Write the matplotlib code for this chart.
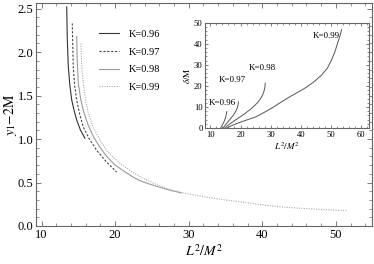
import matplotlib

matplotlib.use("Agg")
import matplotlib.pyplot as plt
from matplotlib.ticker import MultipleLocator

# main panel: y1 - 2M against L^2/M^2
K_LABELS = ["K=0.96", "K=0.97", "K=0.98", "K=0.99"]

L2_096 = [13.42, 13.5, 13.64, 13.85, 14.10, 14.45, 14.78, 15.3, 15.9]
Y_096 = [2.52, 2.15, 1.83, 1.62, 1.45, 1.32, 1.22, 1.10, 1.01]

L2_097 = [14.18, 14.25, 14.31, 14.5, 14.78, 15.2, 15.67, 16.5, 17.49, 18.8, 19.5, 20.2]
Y_097 = [2.33, 2.05, 1.83, 1.62, 1.45, 1.28, 1.14, 1.0, 0.87, 0.74, 0.68, 0.62]

L2_098 = [14.78, 14.85, 15.0, 15.3, 15.67, 16.3, 17.03, 17.9, 18.85, 20.0, 21.56,
          22.4, 23.4, 24.4, 25.5, 26.5, 27.5, 28.3, 29.0]
Y_098 = [2.18, 1.9, 1.64, 1.47, 1.33, 1.17, 1.03, 0.91, 0.80, 0.70, 0.61,
         0.565, 0.52, 0.49, 0.46, 0.435, 0.41, 0.395, 0.38]

L2_099 = [15.36, 15.45, 15.67, 16.0, 16.35, 17.0, 17.94, 19.0, 20.65, 22.0, 23.36,
          25.0, 27.0, 29.0, 31.5, 34.5, 37.8, 40.0, 42.4, 44.6, 46.9, 49.2, 51.6]
Y_099 = [2.10, 1.85, 1.64, 1.45, 1.30, 1.14, 0.99, 0.85, 0.72, 0.64, 0.57,
         0.50, 0.43, 0.385, 0.345, 0.305, 0.27, 0.243, 0.22, 0.207, 0.195, 0.185, 0.176]

# inset: delta/M against L^2/M^2
IN_L2_096 = [13.4, 14.0, 14.6, 15.0, 15.3, 15.45]
IN_D_096 = [0, 1.5, 3.2, 4.8, 6.4, 7.8]
IN_L2_097 = [14.2, 15.2, 16.2, 17.3, 18.0, 18.6, 19.0, 19.2, 19.3]
IN_D_097 = [0, 1.8, 3.6, 5.5, 6.9, 8.4, 9.8, 11.1, 12.4]
IN_L2_098 = [14.8, 15.6, 16.5, 18.3, 20.0, 21.6, 23.3, 24.9, 25.8, 26.6, 27.3,
             27.8, 28.1, 28.2]
IN_D_098 = [0, 1.0, 2.0, 3.8, 5.4, 7.0, 8.9, 11.0, 12.3, 13.9, 15.6,
            17.6, 19.5, 21.3]
IN_L2_099 = [15.5, 16.3, 17.3, 19.2, 22.0, 24.9, 27.7, 30.4, 33.0, 35.7, 38.5,
             41.4, 44.3, 46.9, 48.8, 50.2, 51.3, 52.2, 52.9, 53.5]
IN_D_099 = [0, 0.6, 1.3, 2.4, 3.8, 5.2, 7.3, 9.5, 11.9, 14.3, 16.6,
            19.0, 21.9, 25.2, 28.5, 32.4, 36.4, 40.5, 43.6, 46.7]

# where the inset labels sit (data coords of the inset)
IN_LABEL_X = [9.5, 12.7, 22.6, 43.8]
IN_LABEL_Y = [11.8, 22.8, 28.4, 43.5]

plt.rcParams["font.family"] = "Liberation Serif"
plt.rcParams["mathtext.fontset"] = "stix"

FRAME = "#666666"


def style_frame(ax, size):
    for s in ax.spines.values():
        s.set_color(FRAME)
        s.set_linewidth(0.8)
    ax.tick_params(which="both", direction="in", top=True, right=True,
                   color=FRAME, labelsize=size, pad=2)
    ax.tick_params(which="major", length=3.5, width=0.6)
    ax.tick_params(which="minor", length=2, width=0.5)


fig = plt.figure(figsize=(3.74, 2.64), dpi=100)
ax = fig.add_axes([0.0963, 0.144, 0.898, 0.843])

ax.plot(L2_096, Y_096, color="#333333", lw=0.8, label=K_LABELS[0])
ax.plot(L2_097, Y_097, color="#444444", lw=0.8, ls=(0, (2, 1.5)), label=K_LABELS[1])
ax.plot(L2_098, Y_098, color="#9a9a9a", lw=0.8, label=K_LABELS[2])
ax.plot(L2_099, Y_099, color="#aaaaaa", lw=0.8, ls=(0, (1, 1.2)), label=K_LABELS[3])

ax.set_xlim(9.25, 54.9)
ax.set_ylim(0, 2.56)
ax.xaxis.set_major_locator(MultipleLocator(10))
ax.xaxis.set_minor_locator(MultipleLocator(2))
ax.yaxis.set_major_locator(MultipleLocator(0.5))
ax.yaxis.set_minor_locator(MultipleLocator(0.1))
style_frame(ax, 9)
ax.set_xlabel(r"$L^2/M^2$", fontsize=10, labelpad=2)
ax.set_ylabel(r"$y_1\mathrm{-2M}$", fontsize=10)
ax.yaxis.set_label_coords(-0.05, 0.5)

ax.legend(loc="upper left", bbox_to_anchor=(0.175, 0.90), frameon=False,
          fontsize=7.5, handlelength=1.9, handletextpad=1.0, labelspacing=0.8,
          borderaxespad=0)

# inset
ins = fig.add_axes([0.549, 0.515, 0.438, 0.399])
for xs, ys in [(IN_L2_096, IN_D_096), (IN_L2_097, IN_D_097),
               (IN_L2_098, IN_D_098), (IN_L2_099, IN_D_099)]:
    ins.plot(xs, ys, color="#555555", lw=0.7)
for lab, lx, ly in zip(K_LABELS, IN_LABEL_X, IN_LABEL_Y):
    ins.text(lx, ly, lab, fontsize=6.5, ha="left", va="center")

ins.set_xlim(8.35, 62.6)
ins.set_ylim(0, 50)
ins.xaxis.set_major_locator(MultipleLocator(10))
ins.xaxis.set_minor_locator(MultipleLocator(2))
ins.yaxis.set_major_locator(MultipleLocator(10))
ins.yaxis.set_minor_locator(MultipleLocator(2))
style_frame(ins, 6.2)
ins.tick_params(which="major", length=2.5)
ins.tick_params(which="minor", length=1.3)
ins.set_xlabel(r"$L^2/M^2$", fontsize=6.5, labelpad=1)
ins.set_ylabel(r"$\delta/\mathrm{M}$", fontsize=6.5, labelpad=1)

fig.savefig("out.png", dpi=100)
